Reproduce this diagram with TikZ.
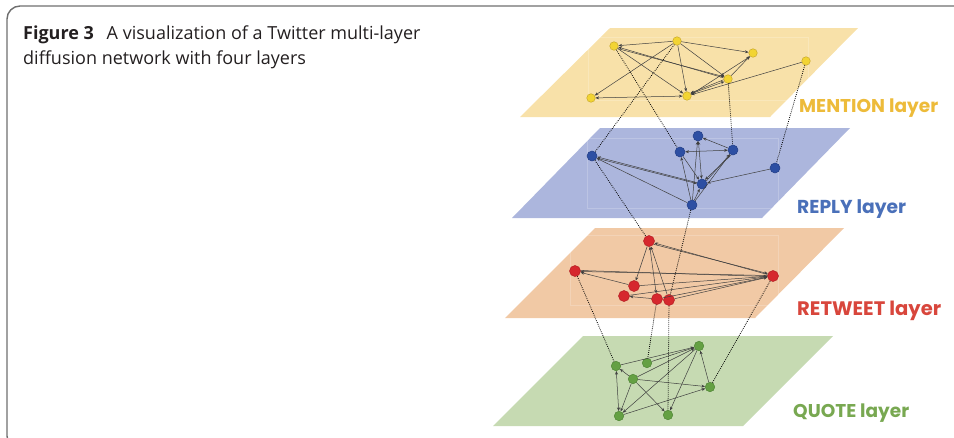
\documentclass[tikz,border=0pt]{standalone}
\usepackage{fontspec}
\setmainfont{Open Sans}
\newfontfamily\labfont{Poppins}
\usetikzlibrary{arrows.meta}
\definecolor{frameC}{HTML}{6E6E6E}
\definecolor{capC}{HTML}{231F20}
\definecolor{planeY}{HTML}{F8E1A9}
\definecolor{planeB}{HTML}{ACB6DD}
\definecolor{planeR}{HTML}{F1C9A5}
\definecolor{planeG}{HTML}{C6DAB2}
\definecolor{nodeY}{HTML}{F2D433}
\definecolor{nodeYd}{HTML}{C9A92A}
\definecolor{nodeB}{HTML}{2D4FA3}
\definecolor{nodeBd}{HTML}{243F86}
\definecolor{nodeR}{HTML}{D6282E}
\definecolor{nodeRd}{HTML}{B21E24}
\definecolor{nodeG}{HTML}{64A043}
\definecolor{nodeGd}{HTML}{4E8533}
\definecolor{labY}{HTML}{EDBB3A}
\definecolor{labB}{HTML}{4A70B9}
\definecolor{labR}{HTML}{D8463C}
\definecolor{labG}{HTML}{78A851}
\definecolor{edgeC}{HTML}{404040}
\begin{document}
\begin{tikzpicture}[x=1pt,y=-1pt,
  ynode/.style={circle,inner sep=0pt,minimum size=8.5pt,fill=nodeY,draw=nodeYd,line width=0.5pt},
  bnode/.style={circle,inner sep=0pt,minimum size=10pt,fill=nodeB,draw=nodeBd,line width=0.5pt},
  rnode/.style={circle,inner sep=0pt,minimum size=11pt,fill=nodeR,draw=nodeRd,line width=0.5pt},
  gnode/.style={circle,inner sep=0pt,minimum size=9.5pt,fill=nodeG,draw=nodeGd,line width=0.5pt},
  lnk/.style={draw=edgeC,line width=0.5pt,-{Stealth[length=3.6pt,width=3pt]}},
  lnkb/.style={draw=edgeC,line width=0.5pt,{Stealth[length=3.6pt,width=3pt]}-{Stealth[length=3.6pt,width=3pt]}},
  dots/.style={draw=black,line width=0.8pt,dash pattern=on 0.8pt off 1.2pt},
  inner/.style={draw=white,draw opacity=0.2,line width=0.7pt},
  laylab/.style={anchor=base west,inner sep=0pt,font=\labfont\bfseries},
  captxt/.style={anchor=base west,inner sep=0pt,text=capC,font=\fontsize{18}{21}\selectfont}
]
\useasboundingbox (0,0) rectangle (954,437);
\clip (0,0) rectangle (954,437);
% frame
\draw[frameC,line width=1.4pt,rounded corners=13pt] (7,6) rectangle (1000,449);
% caption
\node[captxt] (cap1) at (23,39) {\textbf{Figure 3}\hspace{0.45em} A visualization of a Twitter multi-layer};
\node[captxt] (cap2) at (23,64) {diffusion network with four layers};
% planes
\fill[planeY] (610,28) -- (858,28) -- (770,117) -- (520,117) -- cycle;
\fill[planeB] (600,128) -- (850,128) -- (762,218) -- (512,218) -- cycle;
\fill[planeR] (595,228) -- (844,228) -- (755,318) -- (505,318) -- cycle;
\fill[planeG] (583,336) -- (833,336) -- (743,426) -- (493,426) -- cycle;
% faint inner boxes
\draw[inner] (588,37) rectangle (808,100);
\draw[inner] (587,138) rectangle (778,208);
\draw[inner] (570,235) rectangle (778,305);
% labels
\node[laylab,text=labY] (labm) at (799,112) {\resizebox{139pt}{!}{MENTION layer}};
\node[laylab,text=labB] (labp) at (797,213) {\resizebox{109pt}{!}{REPLY layer}};
\node[laylab,text=labR] (labr) at (797,315) {\resizebox{144pt}{!}{RETWEET layer}};
\node[laylab,text=labG] (labq) at (793,417) {\resizebox{116pt}{!}{QUOTE layer}};
% mention nodes
\node[ynode] (y1) at (614,46) {};
\node[ynode] (y2) at (677,41) {};
\node[ynode] (y3) at (753,53) {};
\node[ynode] (y4) at (806,61) {};
\node[ynode] (y5) at (728,79) {};
\node[ynode] (y6) at (687,96) {};
\node[ynode] (y7) at (591,98) {};
% reply nodes
\node[bnode] (b1) at (592,156) {};
\node[bnode] (b2) at (698,136) {};
\node[bnode] (b3) at (680,152) {};
\node[bnode] (b4) at (733,150) {};
\node[bnode] (b5) at (775,168) {};
\node[bnode] (b6) at (702,184) {};
\node[bnode] (b7) at (692,205) {};
% retweet nodes
\node[rnode] (r1) at (649,241) {};
\node[rnode] (r2) at (575,271) {};
\node[rnode] (r3) at (773,276) {};
\node[rnode] (r4) at (634,286) {};
\node[rnode] (r5) at (624,296) {};
\node[rnode] (r6) at (657,299) {};
\node[rnode] (r7) at (669,300) {};
% quote nodes
\node[gnode] (g1) at (699,346) {};
\node[gnode] (g2) at (616,366) {};
\node[gnode] (g3) at (647,363) {};
\node[gnode] (g4) at (633,379) {};
\node[gnode] (g5) at (710,387) {};
\node[gnode] (g6) at (619,416) {};
\node[gnode] (g7) at (668,415) {};
% mention edges
\draw[lnk] (y2) -- (y1);
\draw[lnk] (y2) -- (y3);
\draw[lnk] (y2) -- (y7);
\draw[lnk] (y2) -- (y6);
\draw[lnk] (y2) -- (y5);
\draw[lnk] (y5.165) -- (y1.-15);
\draw[lnk] (y1.-35) -- (y5.150);
\draw[lnk] (y1) -- (y6);
\draw[lnkb] (y7) -- (y6);
\draw[lnk] (y5) -- (y3);
\draw[lnk] (y6.20) -- (y3.230);
\draw[lnkb] (y6.30) -- (y5.215);
\draw[lnk] (y5.190) -- (y6.40);
\draw[lnk] (y4) -- (y6);
% reply edges
\draw[lnk] (b6.165) -- (b1.-10);
\draw[lnk] (b1.-25) -- (b6.175);
\draw[lnk] (b7) -- (b1);
\draw[lnkb] (b3) -- (b4);
\draw[lnk] (b4) -- (b2);
\draw[lnk] (b6.35) -- (b4.235);
\draw[lnk] (b4.250) -- (b6.55);
\draw[lnk] (b3) -- (b6);
\draw[lnkb] (b2) -- (b6);
\draw[lnk] (b7) -- (b3);
\draw[lnk] (b7) -- (b2);
\draw[lnk] (b7) -- (b6);
\draw[lnk] (b7) -- (b4);
\draw[lnk] (b5) -- (b6);
% retweet edges
\draw[lnk] (r3.165) -- (r1.-20);
\draw[lnk] (r1.-35) -- (r3.155);
\draw[lnk] (r3.175) -- (r2.-5);
\draw[lnk] (r2.5) -- (r3.185);
\draw[lnk] (r4) -- (r2);
\draw[lnk] (r1) -- (r4);
\draw[lnkb] (r1) -- (r6);
\draw[lnk] (r7) -- (r1);
\draw[lnk] (r4) -- (r3);
\draw[lnk] (r5) -- (r3);
\draw[lnk] (r6) -- (r3);
\draw[lnk] (r7) -- (r3);
\draw[lnk] (r6) -- (r5);
% quote edges
\draw[lnk] (g2) -- (g1);
\draw[lnk] (g3) -- (g1);
\draw[lnk] (g4) -- (g2);
\draw[lnkb] (g2) -- (g6);
\draw[lnk] (g4) -- (g6);
\draw[lnk] (g4) -- (g5);
\draw[lnk] (g4) -- (g7);
\draw[lnk] (g4) -- (g1);
\draw[lnk] (g1) -- (g6);
\draw[lnk] (g5) -- (g1);
\draw[lnk] (g6) -- (g5);
\draw[lnk] (g1) -- (g7);
% inter-layer dotted links
\draw[dots] (y1) -- (b3);
\draw[dots] (y2) -- (b1);
\draw[dots] (y5) -- (b4);
\draw[dots] (y4) -- (b5);
\draw[dots] (b1) -- (r1);
\draw[dots] (b7) -- (r7);
\draw[dots] (r2) -- (g2);
\draw[dots] (r6) -- (g3);
\draw[dots] (r7) -- (g7);
\draw[dots] (r3) -- (g5);
\end{tikzpicture}
\end{document}
